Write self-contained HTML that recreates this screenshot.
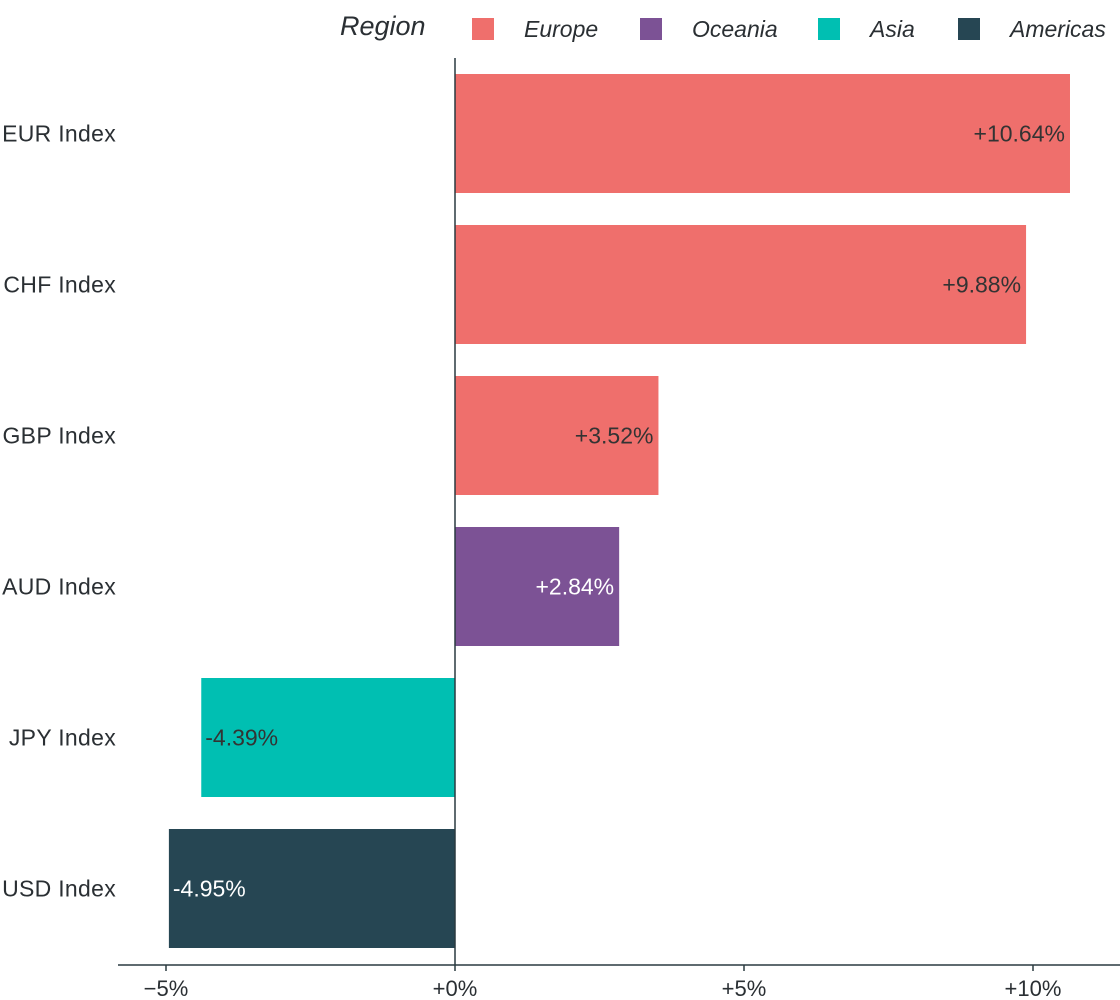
<!DOCTYPE html>
<html><head><meta charset="utf-8"><style>
html,body{margin:0;padding:0;background:#fff;}
svg{display:block;font-family:"Liberation Sans",Arial,sans-serif;}
</style></head><body>
<svg id="chart" width="1120" height="1000">
<g id="legend">
<text x="340" y="35" font-size="27" font-style="italic" fill="#2a2f33">Region</text>
</g>
<g id="bars"></g>
<g id="axes"></g>
</svg>
<script>
const categories = ["EUR Index","CHF Index","GBP Index","AUD Index","JPY Index","USD Index"];
const values = [10.64, 9.88, 3.52, 2.84, -4.39, -4.95];
const regions = ["Europe","Europe","Europe","Oceania","Asia","Americas"];
const legendNames = ["Europe","Oceania","Asia","Americas"];
const legendColors = ["#ef6f6c","#7c5295","#00bfb2","#264653"];
const labelColors = ["#333333","#ffffff","#333333","#ffffff"];
const ticks = [-5, 0, 5, 10];
const tickLabels = ["\u22125%","+0%","+5%","+10%"];

const NS = "http://www.w3.org/2000/svg";
const x0 = 455, pxPer = 57.8;
function xs(v){ return x0 + v*pxPer; }
const top0 = 74, step = 151, bh = 119;
function ys(i){ return top0 + i*step; }
function mk(tag, attrs, parent){ const e=document.createElementNS(NS,tag); for(const k in attrs) e.setAttribute(k,attrs[k]); parent.appendChild(e); return e; }

const bars = document.getElementById("bars");
const axes = document.getElementById("axes");
const legend = document.getElementById("legend");

categories.forEach((c,i)=>{
  const v = values[i];
  const ri = legendNames.indexOf(regions[i]);
  const r = mk("rect",{x:Math.min(xs(0),xs(v)),y:ys(i),width:Math.abs(xs(v)-xs(0)),height:bh,fill:legendColors[ri]},bars);
  
  
  const t = mk("text",{y:ys(i)+bh/2+8,"font-size":23,fill:labelColors[ri]},bars);
  if(v>=0){ t.setAttribute("x",xs(v)-5); t.setAttribute("text-anchor","end"); }
  else { t.setAttribute("x",xs(v)+4); t.setAttribute("text-anchor","start"); }
  t.textContent = (v>=0?"+":"")+v.toFixed(2)+"%";
  
  
  const cl = mk("text",{x:116,y:ys(i)+bh/2+8,"font-size":23,"letter-spacing":0.3,fill:"#2a2f33","text-anchor":"end"},axes);
  cl.textContent = c;
  
  
});

const zl = mk("line",{x1:xs(0),x2:xs(0),y1:58,y2:965,stroke:"#2a3a40","stroke-width":1.5},axes);


const xa = mk("line",{x1:118,x2:1120,y1:965,y2:965,stroke:"#2a3a40","stroke-width":1.5},axes);


ticks.forEach((tv,i)=>{
  const tk = mk("line",{x1:xs(tv),x2:xs(tv),y1:965,y2:971,stroke:"#2a3a40","stroke-width":1.5},axes);
  
  
  const tl = mk("text",{x:xs(tv),y:996,"font-size":22,fill:"#2a2f33","text-anchor":"middle"},axes);
  tl.textContent = tickLabels[i];
  
  
});

const lx = [472,640,818,958];
legendNames.forEach((n,i)=>{
  const s = mk("rect",{x:lx[i],y:18,width:22,height:22,fill:legendColors[i]},legend);
  
  
  const t = mk("text",{x:lx[i]+52,y:37,"font-size":23,"font-style":"italic",fill:"#2a2f33"},legend);
  t.textContent = n;
  
  
});
</script>
</body></html>
